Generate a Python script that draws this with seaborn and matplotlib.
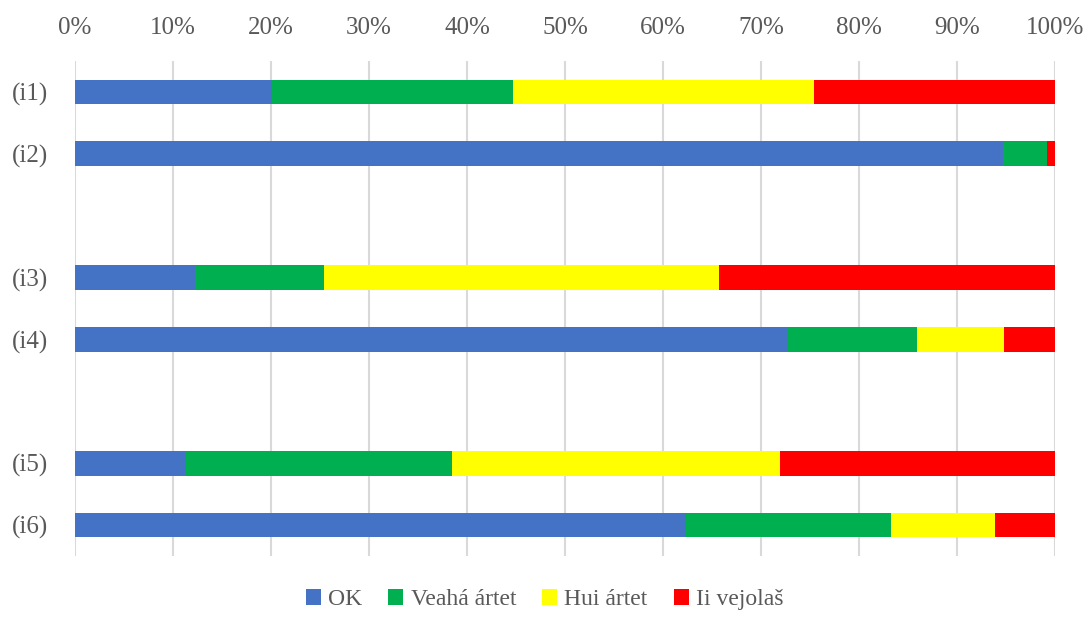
import numpy as np
import pandas as pd
import seaborn as sns
import matplotlib.pyplot as plt
from matplotlib.patches import Patch

# ---------- Data (percent of answers per item) ----------
items = ["(i1)", "(i2)", "(i3)", "(i4)", "(i5)", "(i6)"]
series = ["OK", "Veahá ártet", "Hui ártet", "Ii vejolaš"]
ok = [20.1, 94.7, 12.2, 72.8, 11.3, 62.3]
veaha = [24.6, 4.45, 13.2, 13.1, 27.2, 21.0]
hui = [30.7, 0.0, 40.3, 8.9, 33.4, 10.6]
ii = [24.6, 0.85, 34.3, 5.2, 28.1, 6.1]
colors = ["#4472C4", "#00B050", "#FFFF00", "#FF0000"]

# slot order with empty rows between the pairs
slots = ["(i1)", "(i2)", "gap1", "(i3)", "(i4)", "gap2", "(i5)", "(i6)"]

TEXT = "#595959"
FONT = "Liberation Serif"


def main() -> int:
    sns.set_style("white")
    plt.rcParams["font.family"] = [FONT, "DejaVu Serif"]

    df = pd.DataFrame({"item": items, "OK": ok, "Veahá ártet": veaha,
                       "Hui ártet": hui, "Ii vejolaš": ii})
    vals = df[series].to_numpy()
    total = vals.sum(axis=1, keepdims=True)
    cum = np.cumsum(vals / total * 100, axis=1)

    fig = plt.figure(figsize=(10.89, 6.19), dpi=100)
    ax = fig.add_axes([75 / 1089, 1 - 556 / 619, 980 / 1089, 495 / 619])

    # draw cumulative bars from the last series back to the first
    for k in range(len(series) - 1, -1, -1):
        sub = pd.DataFrame({"item": items, "v": cum[:, k]})
        sns.barplot(data=sub, y="item", x="v", order=slots, orient="h",
                    color=colors[k], width=0.4, linewidth=0, saturation=1,
                    ax=ax)

    ax.set_xlim(0, 100)
    ax.set_ylim(len(slots) - 0.5, -0.5)
    ax.set_xticks(np.arange(0, 101, 10))
    ax.set_xticklabels([f"{t}%" for t in range(0, 101, 10)])
    ax.set_yticks(range(len(slots)))
    ax.set_yticklabels([s if not s.startswith("gap") else "" for s in slots])
    ax.xaxis.tick_top()
    ax.tick_params(axis="both", length=0, labelsize=18, colors=TEXT)
    ax.tick_params(axis="x", pad=16)
    ax.tick_params(axis="y", pad=19)
    ax.set_xlabel("")
    ax.set_ylabel("")
    ax.grid(axis="x", color="#D9D9D9", linewidth=1.5)
    ax.set_axisbelow(True)
    for sp in ax.spines.values():
        sp.set_visible(False)

    handles = [Patch(facecolor=c, edgecolor="none", label=s)
               for s, c in zip(series, colors)]
    leg = fig.legend(handles=handles, loc="lower center", ncol=4,
                     bbox_to_anchor=(0.5, -0.02), frameon=False,
                     handlelength=0.65, handleheight=0.65, handletextpad=0.3,
                     columnspacing=1.1, fontsize=17)
    for t in leg.get_texts():
        t.set_color(TEXT)

    fig.savefig("out.png", dpi=100)
    plt.close(fig)
    return 0


if __name__ == "__main__":
    raise SystemExit(main())
